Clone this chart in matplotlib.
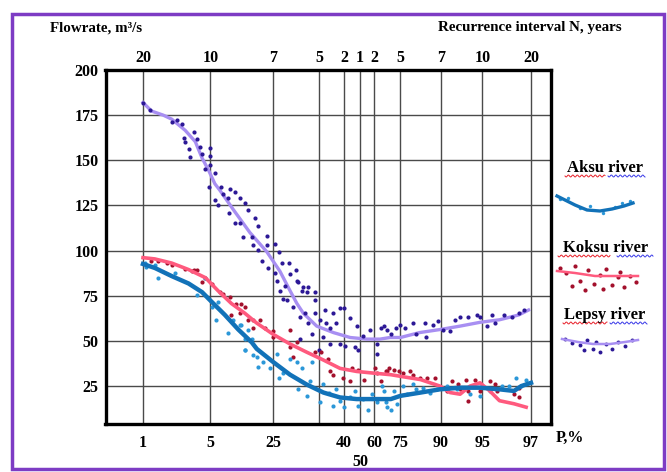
import numpy as np
import matplotlib
matplotlib.use("Agg")
import matplotlib.pyplot as plt
from matplotlib.patches import Rectangle

plt.rcParams['font.family'] = ['Liberation Serif', 'DejaVu Serif']
plt.rcParams['font.weight'] = 'bold'

# probability axis: P values of the grid lines and where they sit on the sheet
p_knots = [0, 1, 5, 25, 35, 40, 50, 60, 75, 90, 95, 97, 98]
pos_knots = [105.5, 143, 210.5, 273, 319, 344, 360, 374.5, 400.5, 441, 482.5, 531, 551]

p_grid = [1, 5, 25, 35, 40, 50, 60, 75, 90, 95, 97]
p_labels = ['1', '5', '25', '', '40', '\n50', '60', '75', '90', '95', '97']
n_labels = ['20', '10', '7', '5', '2', '1', '2', '5', '7', '10', '20']
q_ticks = [25, 50, 75, 100, 125, 150, 175, 200]

# smoothed curves (P %, flow m3/s)
aksu_p = [1, 1.7, 2.7, 3.7, 4.5, 5.4, 9.6, 13.9, 18.2, 19.8, 25, 28.7, 32.3, 35.9, 39.2, 47.9,
          59, 69.4, 75, 82.4, 89.6, 92.3, 94.7, 95.7, 96.3, 96.6, 97]
aksu_q = [92.6, 90.4, 85.9, 81.8, 77, 71.6, 64.4, 56.3, 49.2, 45.6, 38.4, 31.3, 25.9, 21.4, 18.7, 17.8,
          17.8, 17.8, 19.6, 21.4, 23.2, 24.1, 24.1, 23.2, 22.3, 25, 26.8]
koksu_p = [1, 1.7, 2.7, 3.7, 4.7, 7.4, 11.7, 16, 19.7, 25, 28.7, 32.3, 35.9, 39.2, 47.9, 59, 69.4,
           75, 82.4, 89.6, 91.1, 92.3, 93.5, 94.7, 95.3, 95.7, 96.3, 96.8]
koksu_q = [96.1, 95.4, 93.1, 89.5, 85, 77.8, 70.7, 65.3, 60, 53.7, 48.3, 43.8, 39.4, 34.8, 33.1, 32.2, 31.3,
           30.4, 28.6, 25, 21.4, 20.5, 25, 26.8, 22.3, 16.9, 15.2, 13.3]
lepsy_p = [1, 1.5, 2.2, 2.7, 3.5, 4.1, 4.5, 4.9, 6.4, 8, 12.3, 17.6, 23, 26.5, 28.7, 30.2, 31.6, 34.5,
           37.9, 43.8, 54.6, 63.2, 69, 75, 82, 89.6, 92.3, 94.7, 95.7, 96.5, 96.9]
lepsy_q = [182, 177.3, 175, 172.8, 166.6, 160.3, 151.3, 144.2, 137, 133.4, 122.7, 110, 99.4, 88.6, 77.8, 70.7,
           65.3, 58.2, 54.6, 51.9, 51, 51, 51.9, 51.9, 54.6, 56.3, 58.2, 60.3, 61.7, 64.4, 67.1]

# observed points
aksu_pts_p = [1.1, 1.2, 1.7, 1.9, 2.9, 4.2, 4.7, 5.4, 7.4, 6.9, 10.6, 12.2, 14.4, 16, 17, 16, 18.7,
              14.9, 16, 18.2, 19.8, 20.3, 21.9, 24, 25.8, 26.2, 27.2, 28.7, 30.2, 30.5, 31.2, 32.3, 33,
              33.4, 35.2, 35.9, 37, 37.9, 38.5, 39.2, 40.3, 43.8, 46.9, 48.9, 52.3, 55.8, 58.1, 61.3,
              65.4, 67.3, 64.4, 66.4, 69.4, 71.2, 73.2, 76.1, 77.3, 79.7, 80.9, 83.3, 85.9, 88.4, 90.7,
              91.9, 93.5, 94.7, 95.3, 95.8, 96.1, 96.4, 96.6, 96.8]
aksu_pts_q = [93.1, 90.8, 91.8, 85, 87.7, 75.2, 85, 68.9, 71.6, 61.7, 54.6, 61.7, 59, 51, 56.3, 44.7, 42,
              59, 44.7, 51, 41.1, 35.8, 38.4, 34.8, 42.9, 29.5, 32.2, 40.2, 38.4, 23.2, 34.8, 19.6, 27.7,
              38.4, 16, 25.9, 21.4, 14.2, 23.2, 16.9, 13.3, 18.7, 22.3, 14.2, 17.8, 11.6, 20.5, 16,
              22.3, 13.3, 25, 16, 11.6, 22.3, 15.2, 25, 20.5, 25.9, 23.2, 24.1, 21.4, 23.2, 25,
              23.2, 20.5, 19.6, 22.3, 25, 25, 29.5, 25, 28.6]
koksu_pts_p = [1.5, 1.9, 2.4, 2.7, 3.5, 4, 4.2, 3.9, 4.5, 4.7, 5.4, 8, 9, 11.2, 13.3, 14.9, 14.4, 11.7,
               18.7, 17.1, 16, 18.7, 20.8, 22.4, 25, 25, 28.7, 28.7, 30.2, 29.4, 34.1, 35.5, 36.8, 37.2,
               37.9, 39.9, 43.8, 44.8, 48.9, 53, 60.3, 61.3, 63.5, 67.3, 66.4, 68.3, 71.2, 74, 76.1,
               78.6, 79.7, 82.4, 84.7, 87.8, 89.6, 90.7, 91.3, 92.1, 92.3, 93, 93.2, 93.2, 94.1, 94.7,
               95.3, 95.5, 95.6, 96.3, 96.5, 96.5]
koksu_pts_q = [94, 94.4, 93.1, 91.8, 90, 89.5, 89.5, 88.6, 82.4, 85, 81.5, 77, 76, 74.3, 70.7, 70.7, 65.3, 64.4,
               57.3, 61.4, 68.9, 61.7, 61.7, 57.3, 55.5, 51.9, 56.3, 46.5, 49.2, 41.1, 43.8, 43.8, 40.2, 33.1,
               31.3, 29.5, 27.7, 34.8, 34, 28.6, 34.8, 32.2, 27.7, 33.1, 33.1, 34.8, 34, 33.1, 32.2,
               33.4, 31.3, 29.5, 29.5, 29.5, 24.1, 22.3, 27.7, 25.9, 23.2, 28.6, 22.3, 16.9, 28.6, 22.3,
               27.7, 25.9, 22.3, 20.5, 18.7, 24.1]
lepsy_pts_p = [1, 1.4, 2.7, 3, 3.3, 3.4, 3.5, 3.7, 3.8, 4, 4.2, 4.4, 4.5, 4.7, 5, 5, 5, 6.4, 4.9, 6.4,
               7.4, 8.5, 9, 10.6, 11.1, 10.9, 12.8, 12.8, 14.4, 14.4, 16, 17, 19.2, 20.3, 15.5, 18.2,
               18.7, 20.3, 23, 23, 25.4, 26.2, 21.4, 23.5, 25.4, 27, 28.4, 30, 25.8, 27.6, 28.7, 30.5,
               31.6, 26.5, 32.3, 34.1, 27.2, 34.1, 30.2, 31.2, 32.7, 28, 29.4, 30.9, 32, 32.7, 34.1,
               35.2, 36.2, 36.5, 37.2, 37.9, 39.2, 40.3, 38.5, 43.8, 47.9, 33.4, 30.9, 35.9, 37.2, 39.2,
               40.9, 46.9, 52.3, 57, 61.3, 61.3, 63.5, 67.3, 34.9, 48.9, 65.4, 69.4, 72.3, 75, 76.7,
               79.7, 80.9, 83.9, 84.5, 87, 89, 90.3, 91.1, 91.7, 92.3, 93.3, 94.3, 94.7, 95.2, 95.4,
               95.5, 95.9, 96.2, 96.5, 96.7]
lepsy_pts_q = [181.5, 177.8, 171, 172.3, 170.3, 162.6, 160.3, 156.2, 151.7, 165.7, 161.7, 157.4, 153.5, 145,
               156.7, 152.3, 147.4, 142.7, 135.2, 128, 125.4, 135.2, 131.6, 128.9, 134.3, 120.9, 132.5,
               115.5, 128.9, 115.5, 126.2, 122.7, 118.2, 113.7, 107.4, 107.4, 103, 100.3, 108.3, 103,
               103.9, 99.4, 94, 90.4, 87.7, 93.1, 93.1, 89.5, 83.2, 80.5, 86.8, 82.4, 79.7, 77.8, 77,
               77, 73.4, 72.5, 83.2, 77.8, 79.7, 72.5, 68.9, 63.5, 65.3, 59.9, 65.3, 61.7, 67.1, 59.9,
               57.3, 65.3, 68, 68, 59.9, 62.6, 58.2, 53.7, 51, 51.9, 48.3, 48.3, 47.4, 46.5, 52.8, 56.3,
               48.3, 42.9, 57.3, 56.3, 44.7, 44.7, 58.2, 53.7, 57.3, 59, 57.3, 59.9, 53.7, 59.9, 51.9,
               59, 60.9, 56.3, 55.5, 61.7, 63.5, 63.5, 64.4, 63.5, 58.2, 64.4, 59.9, 64.4, 63.5, 65.3,
               67.1]


def fwd(p):
    return np.interp(p, p_knots, pos_knots)


def inv(x):
    return np.interp(x, pos_knots, p_knots)


W, H = 667, 472
fig = plt.figure(figsize=(W / 100, H / 100), dpi=100)
ax = fig.add_axes([105.5 / W, 1 - 424 / H, (551 - 105.5) / W, (424 - 70) / H])
ax.set_xscale('function', functions=(fwd, inv))
ax.set_xlim(0, 98)
ax.set_ylim(4, 200)

grid_c = '#4a4a4a'
for p in p_grid:
    ax.axvline(p, color=grid_c, lw=1.0, zorder=1)
for q in q_ticks[:-1]:
    ax.axhline(q, color=grid_c, lw=1.0, zorder=1)

ax.scatter(lepsy_pts_p, lepsy_pts_q, s=9, color='#2c1896', zorder=3, linewidths=0)
ax.plot(lepsy_p, lepsy_q, color='#a88ff2', lw=2.4, zorder=2)
ax.scatter(koksu_pts_p, koksu_pts_q, s=9, color='#a3102c', zorder=3, linewidths=0)
ax.plot(koksu_p, koksu_q, color='#ff5a7e', lw=2.6, zorder=4)
ax.scatter(aksu_pts_p, aksu_pts_q, s=9, color='#2b97d8', zorder=3, linewidths=0)
ax.plot(aksu_p, aksu_q, color='#1272b8', lw=3.2, zorder=5)

ax.set_xticks(p_grid)
ax.set_xticklabels(p_labels)
ax.xaxis.set_minor_locator(matplotlib.ticker.NullLocator())
ax.set_yticks(q_ticks)
ax.tick_params(length=0, labelsize=11.5, pad=8)
ax.tick_params(axis='y', pad=5)
for s in ax.spines.values():
    s.set_linewidth(2.4)
    s.set_color('black')

# recurrence interval along the top, same grid lines
top = ax.twiny()
top.set_xscale('function', functions=(fwd, inv))
top.set_xlim(ax.get_xlim())
top.set_xticks(p_grid)
top.set_xticklabels(n_labels)
top.xaxis.set_minor_locator(matplotlib.ticker.NullLocator())
top.tick_params(length=0, labelsize=11.5, pad=3)
for s in top.spines.values():
    s.set_visible(False)

# overlay in pixel coordinates for titles, legend and frame
ov = fig.add_axes([0, 0, 1, 1], zorder=10)
ov.set_xlim(0, W)
ov.set_ylim(H, 0)
ov.axis('off')
ov.patch.set_alpha(0)

ov.text(50, 28, 'Flowrate, m³/s', fontsize=10.8, va='center', ha='left')
ov.text(622, 28, 'Recurrence interval N, years', fontsize=10.8, va='center', ha='right')
ov.text(556, 438, 'P,%', fontsize=11.5, va='center', ha='left')
ov.add_patch(Rectangle((12, 14), 652, 455, fill=False, edgecolor='#7d3cc4', lw=2.5))

# legend entries
leg_names = ['Aksu river', 'Koksu river', 'Lepsy river']
leg_y = [168, 248, 315]
leg_split = [(565, 605, 608, 645), (558, 610, 617, 653), (563, 607, 610, 647)]
for name, y, (r0, r1, b0, b1) in zip(leg_names, leg_y, leg_split):
    ov.text((r0 + b1) / 2, y, name, fontsize=12, ha='center', va='center')
    for x0, x1, c in [(r0, r1, '#e8202a'), (b0, b1, '#3a3ae8')]:
        xs = np.linspace(x0, x1, 60)
        ov.plot(xs, y + 8 + 1.0 * np.sin((xs - x0) * 1.4), color=c, lw=0.7)

aksu_icon_x = [557, 565, 575, 587, 600, 612, 624, 633]
aksu_icon_y = [196, 200, 205, 210, 211, 209, 206, 203]
ov.plot(aksu_icon_x, aksu_icon_y, color='#1272b8', lw=2.4)
ov.scatter([560, 568, 580, 590, 603, 615, 622, 630], [199, 198, 208, 206, 213, 207, 203, 201],
           s=6, color='#2b97d8', linewidths=0)

koksu_icon_x = [557, 575, 595, 615, 638]
koksu_icon_y = [271, 273, 276, 276, 276]
ov.plot(koksu_icon_x, koksu_icon_y, color='#ff5a7e', lw=1.8)
ov.scatter([560, 566, 575, 580, 588, 594, 600, 606, 612, 618, 624, 630, 636, 572, 585, 603, 620],
           [268, 273, 266, 281, 270, 284, 275, 269, 285, 277, 287, 276, 282, 286, 290, 289, 272],
           s=9, color='#a3102c', linewidths=0)

lepsy_icon_x = [562, 578, 593, 610, 625, 638]
lepsy_icon_y = [339, 342, 344, 344, 342, 340]
ov.plot(lepsy_icon_x, lepsy_icon_y, color='#a88ff2', lw=1.8)
ov.scatter([565, 572, 580, 587, 593, 600, 606, 612, 618, 625, 632, 596, 584],
           [339, 343, 345, 340, 349, 352, 344, 349, 342, 346, 340, 342, 350],
           s=8, color='#2c1896', linewidths=0)

fig.savefig('out.png', dpi=100)
